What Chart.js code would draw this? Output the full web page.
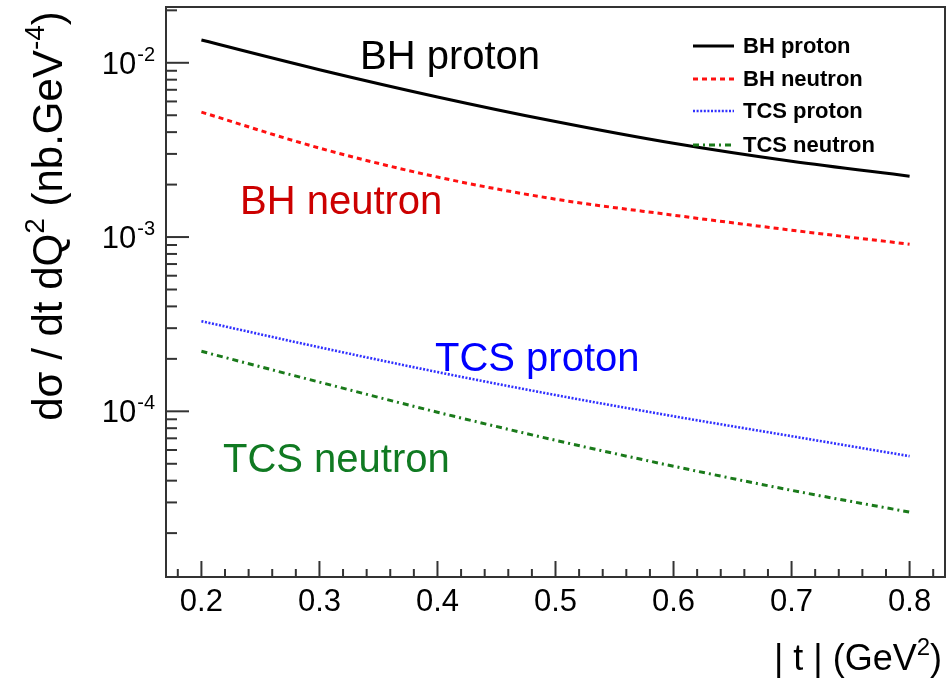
<!DOCTYPE html>
<html>
<head>
<meta charset="utf-8">
<script src="https://cdn.jsdelivr.net/npm/chart.js@4/dist/chart.umd.min.js"></script>
<style>
  html, body { margin: 0; padding: 0; background: #fff; }
</style>
</head>
<body>
<canvas id="grafico" width="946" height="684"></canvas>
<script>
// |t| em GeV^2 e seções de choque (nb.GeV^-4)
const valoresT = [0.2, 0.3, 0.4, 0.5, 0.6, 0.7, 0.8];
const bhProton = [0.0135, 0.00913, 0.00637, 0.0046, 0.00345, 0.00272, 0.002235];
const bhNeutron = [0.00521, 0.00324, 0.00221, 0.00165, 0.001335, 0.001095, 0.00091];
const tcsProton = [3.29e-4, 2.33e-4, 1.68e-4, 1.24e-4, 9.37e-5, 7.2e-5, 5.53e-5];
const tcsNeutron = [2.21e-4, 1.47e-4, 9.88e-5, 6.82e-5, 4.84e-5, 3.52e-5, 2.64e-5];

const nomesSeries = ['BH proton', 'BH neutron', 'TCS proton', 'TCS neutron'];
const ticksX = [0.2, 0.3, 0.4, 0.5, 0.6, 0.7, 0.8];
const expoentesY = [-2, -3, -4];

const FONTE = '"Liberation Sans", Arial, Helvetica, sans-serif';
const estilos = [
    { cor: '#000000', dash: [], largura: 3 },
    { cor: '#ff1010', dash: [5, 4], largura: 3 },
    { cor: '#3030ff', dash: [2, 1.6], largura: 2.6 },
    { cor: '#1a7a1a', dash: [6, 4, 2, 4], largura: 3 }
];

function montarPontos(valores) {
    return valoresT.map((t, i) => ({ x: t, y: valores[i] }));
}

const seriesValores = [bhProton, bhNeutron, tcsProton, tcsNeutron];

// Desenha moldura, ticks internos, rótulos do eixo Y, títulos, legenda e anotações
const pluginEstiloRoot = {
    id: 'estiloRoot',
    afterDraw(chart) {
        const ctx = chart.ctx;
        const area = chart.chartArea;
        const sx = chart.scales.x;
        const sy = chart.scales.y;
        ctx.save();

        // ticks do eixo X (principais e secundários)
        ctx.strokeStyle = '#333';
        ctx.lineWidth = 2;
        for (let k = 9; k <= 41; k++) {
            const v = k * 0.02;
            const px = sx.getPixelForValue(v);
            if (px < area.left + 1 || px > area.right - 1) continue;
            const principal = k % 5 === 0;
            ctx.beginPath();
            ctx.moveTo(px, area.bottom);
            ctx.lineTo(px, area.bottom - (principal ? 16 : 8));
            ctx.stroke();
        }

        // ticks do eixo Y
        sy.ticks.forEach(tk => {
            const py = sy.getPixelForValue(tk.value);
            if (py < area.top + 1 || py > area.bottom - 1) return;
            const exp = Math.log10(tk.value);
            const principal = Math.abs(exp - Math.round(exp)) < 1e-6;
            ctx.beginPath();
            ctx.moveTo(area.left, py);
            ctx.lineTo(area.left + (principal ? 23 : 11), py);
            ctx.stroke();
        });

        // moldura
        ctx.lineWidth = 2;
        ctx.strokeRect(area.left, area.top, area.right - area.left, area.bottom - area.top);

        // rótulos 10^n
        ctx.fillStyle = '#000';
        ctx.textBaseline = 'alphabetic';
        expoentesY.forEach(e => {
            const py = sy.getPixelForValue(Math.pow(10, e));
            ctx.font = '20px ' + FONTE;
            const sup = String(e);
            const wSup = ctx.measureText(sup).width;
            const fim = 155;
            ctx.textAlign = 'left';
            ctx.fillText(sup, fim - wSup, py - 2);
            ctx.font = '31px ' + FONTE;
            ctx.textAlign = 'right';
            ctx.fillText('10', fim - wSup - 1, py + 11);
        });

        // título do eixo Y (rotacionado)
        const partesY = [
            { t: 'dσ / dt dQ', sup: false },
            { t: '2', sup: true },
            { t: ' (nb.GeV', sup: false },
            { t: '-4', sup: true },
            { t: ')', sup: false }
        ];
        desenharTitulo(ctx, partesY, 42, 28, -Math.PI / 2, 62, 216, 'center');

        // título do eixo X
        const partesX = [
            { t: '| t | (GeV', sup: false },
            { t: '2', sup: true },
            { t: ')', sup: false }
        ];
        desenharTitulo(ctx, partesX, 36, 24, 0, 942, 670, 'right');

        // legenda
        const linhasLeg = [46, 79, 111, 145];
        nomesSeries.forEach((nome, i) => {
            const est = estilos[i];
            const y = linhasLeg[i];
            ctx.beginPath();
            ctx.strokeStyle = est.cor;
            ctx.lineWidth = est.largura;
            ctx.setLineDash(est.dash);
            ctx.moveTo(693, y);
            ctx.lineTo(734, y);
            ctx.stroke();
            ctx.setLineDash([]);
            ctx.fillStyle = '#000';
            ctx.font = 'bold 22px ' + FONTE;
            ctx.textAlign = 'left';
            ctx.textBaseline = 'middle';
            ctx.fillText(nome, 743, y + 1);
        });

        // anotações dentro do gráfico
        const anotacoes = [
            { t: 'BH proton', x: 360, y: 69, cor: '#000000' },
            { t: 'BH neutron', x: 240, y: 214, cor: '#cc0000' },
            { t: 'TCS proton', x: 435, y: 371, cor: '#0000ff' },
            { t: 'TCS neutron', x: 223, y: 472, cor: '#107a22' }
        ];
        ctx.font = '40px ' + FONTE;
        ctx.textAlign = 'left';
        ctx.textBaseline = 'alphabetic';
        anotacoes.forEach(a => {
            ctx.fillStyle = a.cor;
            ctx.fillText(a.t, a.x, a.y);
        });

        ctx.restore();
    }
};

function desenharTitulo(ctx, partes, tam, tamSup, ang, x, y, alinh) {
    ctx.save();
    ctx.translate(x, y);
    ctx.rotate(ang);
    ctx.fillStyle = '#000';
    ctx.textAlign = 'left';
    ctx.textBaseline = 'alphabetic';
    let total = 0;
    partes.forEach(p => {
        ctx.font = (p.sup ? tamSup : tam) + 'px ' + FONTE;
        p.w = ctx.measureText(p.t).width;
        total += p.w;
    });
    let cx = alinh === 'center' ? -total / 2 : -total;
    partes.forEach(p => {
        ctx.font = (p.sup ? tamSup : tam) + 'px ' + FONTE;
        ctx.fillText(p.t, cx, p.sup ? -tam * 0.42 : 0);
        cx += p.w;
    });
    ctx.restore();
}

const ctx = document.getElementById('grafico').getContext('2d');
new Chart(ctx, {
    type: 'line',
    data: {
        datasets: nomesSeries.map((nome, i) => ({
            label: nome,
            data: montarPontos(seriesValores[i]),
            borderColor: estilos[i].cor,
            borderWidth: estilos[i].largura,
            borderDash: estilos[i].dash,
            pointRadius: 0,
            fill: false,
            cubicInterpolationMode: 'monotone'
        }))
    },
    options: {
        responsive: false,
        animation: false,
        layout: { padding: { left: 0, right: 1, top: 7, bottom: 0 } },
        plugins: {
            legend: { display: false },
            tooltip: { enabled: false }
        },
        scales: {
            x: {
                type: 'linear',
                min: 0.17,
                max: 0.83,
                grid: { display: false, drawTicks: false },
                border: { display: false },
                afterBuildTicks: s => { s.ticks = ticksX.map(v => ({ value: v })); },
                afterFit: s => { s.height = 107; },
                ticks: {
                    padding: 7,
                    color: '#000',
                    font: { family: FONTE, size: 31 },
                    callback: v => v.toFixed(1)
                }
            },
            y: {
                type: 'logarithmic',
                min: 1.12e-5,
                max: 0.0209,
                grid: { display: false, drawTicks: false },
                border: { display: false },
                afterBuildTicks: s => {
                    const lista = [];
                    for (let e = -5; e <= -2; e++) {
                        for (let k = 1; k <= 9; k++) {
                            const v = k * Math.pow(10, e);
                            if (v >= s.min && v <= s.max) lista.push({ value: v });
                        }
                    }
                    s.ticks = lista;
                },
                afterFit: s => { s.width = 166; },
                ticks: { display: false }
            }
        }
    },
    plugins: [pluginEstiloRoot]
});
</script>
</body>
</html>
